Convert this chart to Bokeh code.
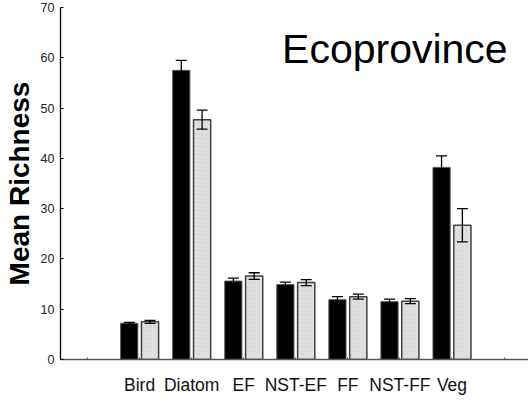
import numpy as np
from bokeh.plotting import figure
from bokeh.models import ColumnDataSource, Whisker, FixedTicker, Label, Range1d
from bokeh.embed import file_html
from bokeh.resources import INLINE

categories = ["Bird", "Diatom", "EF", "NST-EF", "FF", "NST-FF", "Veg"]
black_means = [7.2, 57.5, 15.6, 14.9, 11.9, 11.5, 38.2]
black_err = [0.2, 2.0, 0.6, 0.5, 0.6, 0.5, 2.3]
gray_means = [7.5, 47.7, 16.6, 15.3, 12.5, 11.6, 26.7]
gray_err = [0.3, 1.9, 0.65, 0.6, 0.5, 0.5, 3.3]
y_ticks = [0, 10, 20, 30, 40, 50, 60, 70]

pos = np.arange(1, len(categories) + 1)
off = 0.2
bw = 0.33

src_b = ColumnDataSource(dict(x=pos - off, top=black_means,
                              upper=np.array(black_means) + np.array(black_err),
                              lower=np.array(black_means) - np.array(black_err)))
src_g = ColumnDataSource(dict(x=pos + off, top=gray_means,
                              upper=np.array(gray_means) + np.array(gray_err),
                              lower=np.array(gray_means) - np.array(gray_err)))

p = figure(width=528, height=405, output_backend="svg", toolbar_location=None,
           x_range=Range1d(-0.52, 8.47), y_range=Range1d(0, 70),
           min_border_left=58, min_border_right=0, min_border_top=7, min_border_bottom=46)
p.outline_line_color = None
p.xgrid.visible = False
p.ygrid.visible = False
p.background_fill_color = "white"

p.vbar(x="x", top="top", width=bw, source=src_b, fill_color="black",
       line_color="#555555", line_width=1)
p.vbar(x="x", top="top", width=bw, source=src_g, fill_color="#e6e6e6",
       line_color="#404040", line_width=1.5,
       hatch_pattern="diagonal_cross", hatch_scale=4, hatch_color="#aaaaaa",
       hatch_weight=0.6, hatch_alpha=0.6)

for s in (src_b, src_g):
    w = Whisker(base="x", upper="upper", lower="lower", source=s,
                line_color="black", line_width=1.3, level="annotation")
    w.upper_head.size = 11
    w.lower_head.size = 11
    w.upper_head.line_width = 1.3
    w.lower_head.line_width = 1.3
    w.upper_head.line_color = "black"
    w.lower_head.line_color = "black"
    p.add_layout(w)

# x axis
p.xaxis.ticker = FixedTicker(ticks=list(range(0, len(categories) + 2)))
overrides = {0: "", len(categories) + 1: ""}
for i, c in enumerate(categories):
    overrides[i + 1] = c
p.xaxis.major_label_overrides = overrides
p.xaxis.major_tick_in = 2
p.xaxis.major_tick_out = 0
p.xaxis.minor_tick_line_color = None
p.xaxis.axis_line_color = "#555555"
p.xaxis.axis_line_width = 1.5
p.xaxis.major_tick_line_color = "#555555"
p.xaxis.major_label_text_font = "Liberation Sans"
p.xaxis.major_label_text_font_size = "17.5px"
p.xaxis.major_label_text_color = "#111111"
p.xaxis.major_label_standoff = 15

# y axis
p.yaxis.ticker = FixedTicker(ticks=y_ticks)
p.yaxis.major_tick_in = 3
p.yaxis.major_tick_out = 0
p.yaxis.minor_tick_line_color = None
p.yaxis.axis_line_color = "black"
p.yaxis.axis_line_width = 1.3
p.yaxis.major_label_text_font = "Liberation Sans"
p.yaxis.major_label_text_font_size = "12.5px"
p.yaxis.major_label_text_color = "#222222"
p.yaxis.major_label_standoff = 6
p.yaxis.axis_label = "Mean Richness"
p.yaxis.axis_label_text_font = "Liberation Sans"
p.yaxis.axis_label_text_font_style = "bold"
p.yaxis.axis_label_text_font_size = "28px"
p.yaxis.axis_label_text_color = "black"
p.yaxis.axis_label_standoff = 3

title = Label(x=8.07, y=61.7, text="Ecoprovince", text_align="right",
              text_baseline="alphabetic", text_font="Liberation Sans",
              text_font_size="41px", text_color="black")
p.add_layout(title)

open("out.html", "w").write(file_html(p, INLINE))
